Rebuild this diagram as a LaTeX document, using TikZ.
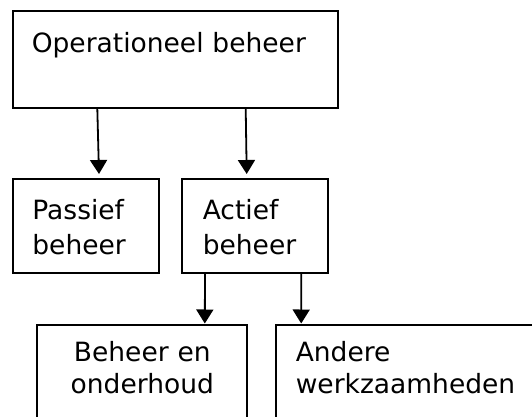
\documentclass[tikz,border=0pt]{standalone}
\usepackage{fontspec}
\setmainfont{DejaVu Sans}
\usetikzlibrary{positioning,arrows.meta}
\begin{document}
\begin{tikzpicture}[x=1pt,y=-1pt,
		box/.style={draw,line width=2pt,inner ysep=0pt,outer sep=0pt,align=left,font=\fontsize{26.5}{34.7}\selectfont},
		low/.style={box,font=\fontsize{26.5}{31.5}\selectfont,text height=36.7pt,text depth=78.3pt},
		arr/.style={line width=1.8pt,-{Triangle[width=17pt,length=14pt]}}]
		\useasboundingbox (0,0) rectangle (532,417);
		\clip (0,0) rectangle (532,417);
		\node (op) [box,anchor=north west,inner xsep=18.5pt,text width=288pt,text height=41.5pt,text depth=55.8pt] at (13.3,11) {Operationeel beheer};
		\node (pas) [box,below=71pt of op.south west,anchor=north west,inner xsep=19.1pt,text width=107.2pt,text height=40pt,text depth=53.4pt] {Passief\\beheer};
		\node (act) [box,right=23.6pt of pas.north east,anchor=north west,inner xsep=20.5pt,text width=104.4pt,text height=40pt,text depth=53.4pt] {Actief\\beheer};
		\draw[arr] ([shift={(84,0)}]op.south west) -- ([shift={(85.7,-5.3)}]pas.north west);
		\draw[arr] ([shift={(232.4,0)}]op.south west) -- ([shift={(64.4,-5.3)}]act.north west);
		
		\node (beo) [low,below=52.3pt of pas.south west,anchor=north west,xshift=24pt,align=center,inner xsep=0pt,text width=210pt] {Beheer en\\onderhoud};
		\node (and) [low,right=28.4pt of beo.north east,anchor=north west,inner xsep=20.1pt,text width=229pt] {Andere\\werkzaamheden};
		\draw[arr] ([shift={(22.7,0)}]act.south west) -- ([shift={(167.5,-1.5)}]beo.north west);
		\draw[arr] ([shift={(119,0)}]act.south west) -- ([shift={(25.5,-1.5)}]and.north west);
\end{tikzpicture}
\end{document}
